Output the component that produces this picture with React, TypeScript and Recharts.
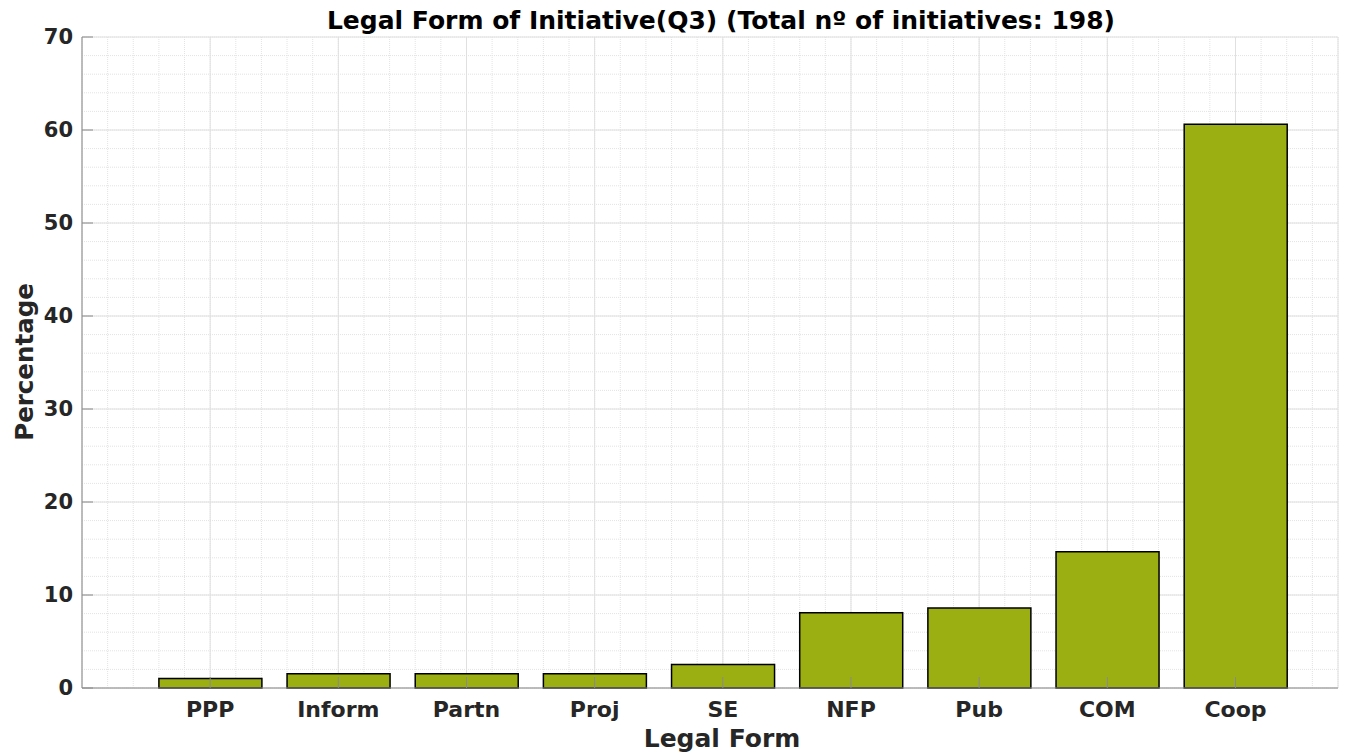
import { Bar, BarChart, CartesianGrid, XAxis, YAxis } from "recharts";

// share of the 198 initiatives per legal form (%)
const categories = ["PPP", "Inform", "Partn", "Proj", "SE", "NFP", "Pub", "COM", "Coop"];
const percentages = [1.01, 1.52, 1.52, 1.52, 2.53, 8.08, 8.59, 14.65, 60.61];
const yTicks = [0, 10, 20, 30, 40, 50, 60, 70];

const xMajor = categories.map((_, i) => i + 1);
const xMinor = Array.from({ length: 50 }, (_, i) => Math.round(i * 2) / 10);
const yMinor = Array.from({ length: 36 }, (_, i) => i * 2);

const data = categories.map((name, i) => ({ x: i + 1, name, value: percentages[i] }));

const FONT = "'DejaVu Sans', sans-serif";
const AXIS = "#8a8a8a";
const TXT = "#262626";

const XTick = (props: any) => {
  const { x, y, payload } = props;
  return (
    <text x={x} y={y} dy={27} textAnchor="middle" fontFamily={FONT} fontWeight="bold" fontSize={22} fill={TXT}>
      {categories[payload.value - 1]}
    </text>
  );
};

const Empty = () => <g />;

// minor horizontal grid positions from the y scale
const minorRows = ({ yAxis, offset }: any) => {
  const scale = yAxis && yAxis.scale;
  if (typeof scale === "function") return yMinor.map((v) => scale(v));
  const top = offset.top;
  const h = offset.height;
  return yMinor.map((v) => top + h - (v / 70) * h);
};

export default function App() {
  return (
    <div style={{ position: "absolute", left: 0, top: 0, background: "#fff" }}>
      <BarChart
        width={1354}
        height={754}
        data={data}
        margin={{ top: 37, right: 16, bottom: 26, left: 22 }}
        barCategoryGap="10%"
      >
        <XAxis
          xAxisId="minor"
          dataKey="x"
          type="number"
          domain={[0, 9.8]}
          ticks={xMinor}
          interval={0}
          hide
          allowDataOverflow
        />
        <CartesianGrid xAxisId="minor" stroke="#e3e3e3" strokeDasharray="1 1" horizontalCoordinatesGenerator={minorRows} />
        <XAxis
          dataKey="x"
          type="number"
          domain={[0, 9.8]}
          ticks={xMajor}
          interval={0}
          height={40}
          stroke={AXIS}
          tickSize={-11}
          tickMargin={13}
          tick={<XTick />}
          allowDataOverflow
        />
        <YAxis
          type="number"
          domain={[0, 70]}
          ticks={yTicks}
          interval={0}
          width={60}
          stroke={AXIS}
          tickSize={-11}
          tickMargin={20}
          tick={{ fontFamily: FONT, fontWeight: "bold", fontSize: 21, fill: TXT }}
        />
        <XAxis
          xAxisId="top"
          orientation="top"
          dataKey="x"
          type="number"
          domain={[0, 9.8]}
          ticks={xMajor}
          interval={0}
          height={0}
          stroke={AXIS}
          tickSize={-11}
          tick={Empty}
          allowDataOverflow
        />
        <YAxis
          yAxisId="right"
          orientation="right"
          type="number"
          domain={[0, 70]}
          ticks={yTicks}
          interval={0}
          width={0}
          stroke={AXIS}
          tickSize={-11}
          tick={Empty}
        />
        <CartesianGrid stroke="#e0e0e0" />
        <Bar dataKey="value" fill="#9caf12" stroke="#000" strokeWidth={1.5} isAnimationActive={false} />
        <text x={721} y={29} textAnchor="middle" fontFamily={FONT} fontWeight="bold" fontSize={25} fill="#000">
          Legal Form of Initiative(Q3) (Total nº of initiatives: 198)
        </text>
        <text x={722} y={747} textAnchor="middle" fontFamily={FONT} fontWeight="bold" fontSize={25} fill={TXT}>
          Legal Form
        </text>
        <text
          x={0}
          y={0}
          transform="translate(33 362) rotate(-90)"
          textAnchor="middle"
          fontFamily={FONT}
          fontWeight="bold"
          fontSize={24.5}
          fill={TXT}
        >
          Percentage
        </text>
      </BarChart>
    </div>
  );
}
